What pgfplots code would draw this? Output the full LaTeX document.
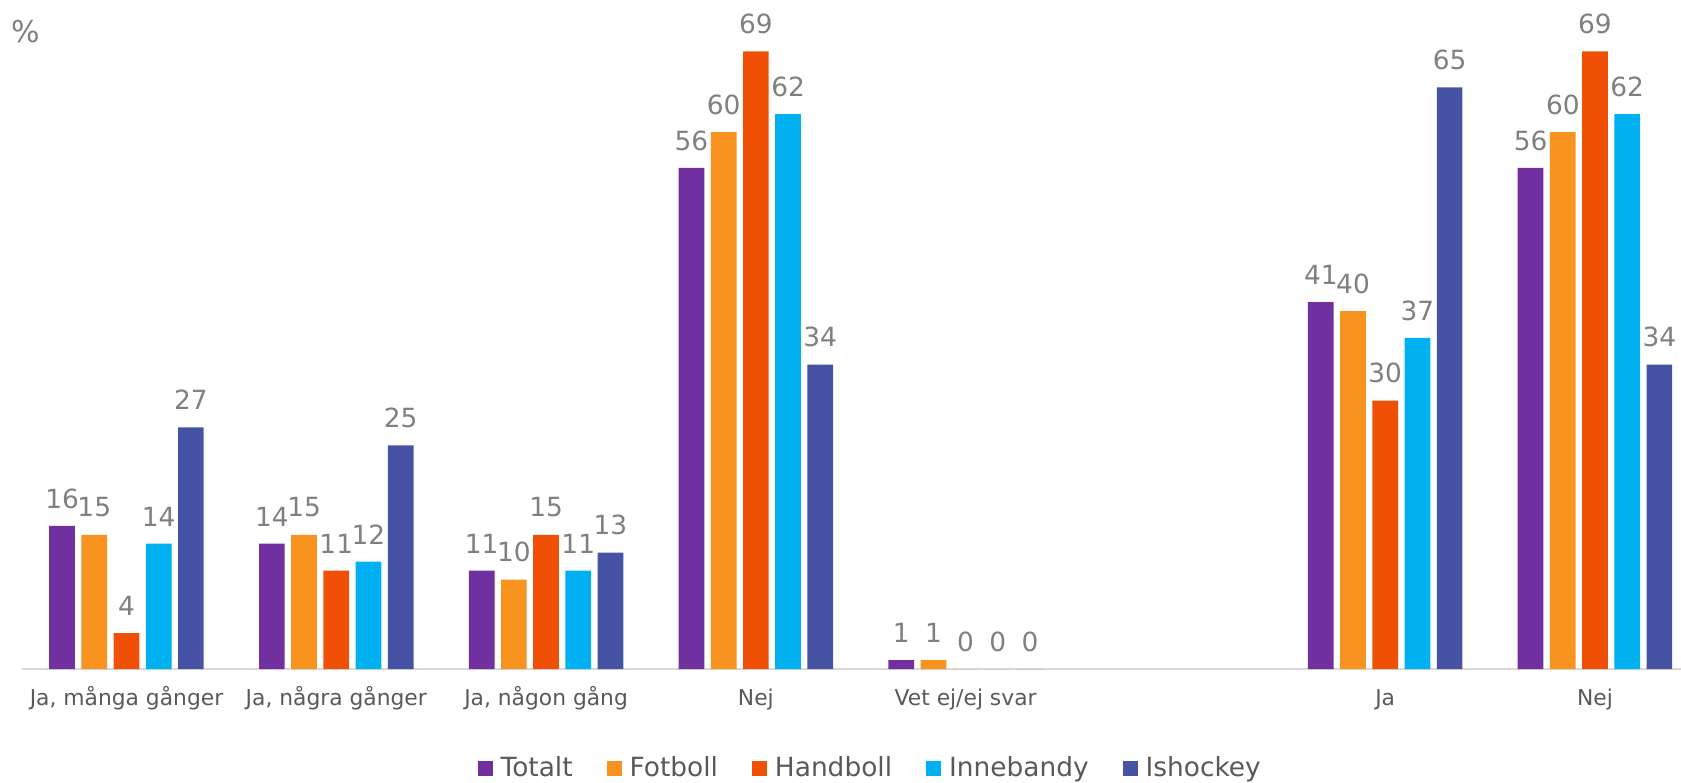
\documentclass[border=0pt]{standalone}
\usepackage{fontspec}
\setmainfont{DejaVu Sans}
\usepackage{pgfplots}
\pgfplotsset{compat=1.18}
\definecolor{cTot}{HTML}{7030A0}
\definecolor{cFot}{HTML}{F7931E}
\definecolor{cHan}{HTML}{F05006}
\definecolor{cInn}{HTML}{00B0F0}
\definecolor{cIsh}{HTML}{4652A4}
\definecolor{lblgray}{HTML}{808080}
\definecolor{tickgray}{HTML}{595959}
\definecolor{linegray}{HTML}{D9D9D9}
\begin{document}
\begin{tikzpicture}
\begin{axis}[
  at={(10.8pt,56.5pt)}, anchor=south west,
  scale only axis,
  width=829.7pt, height=334.5pt,
  ybar=3.25pt, bar width=12.85pt,
  xmin=-0.5, xmax=7.41, ymin=0, ymax=74.75,
  clip=false,
  axis x line*=bottom, axis y line=none,
  x axis line style={draw=linegray, line width=0.8pt, -},
  xtick={0,1,2,3,4,6,7},
  xticklabels={{Ja, många gånger},{Ja, några gånger},{Ja, någon gång},Nej,{Vet ej/ej svar},Ja,Nej},
  major tick length=0pt,
  xticklabel style={font=\fontsize{10.9}{12}\selectfont, text=tickgray, anchor=base, yshift=-18pt},
  ytick=\empty,
  /pgf/number format/assume math mode=true,
  nodes near coords,
  every node near coord/.append style={font=\fontsize{13.2}{15}\selectfont, text=lblgray, inner sep=0pt, yshift=8.5pt},
  legend columns=-1,
  legend style={at={(0.512,-0.148)}, anchor=center, draw=none, fill=none,
    font=\fontsize{13.2}{15}\selectfont, text=tickgray,
    /tikz/every odd column/.append style={column sep=2pt},
    /tikz/every even column/.append style={column sep=15pt}},
  legend image code/.code={\fill[#1,draw=none] (0pt,-3.75pt) rectangle (7.5pt,3.75pt);},
]
\addplot[fill=cTot, draw=none] coordinates {(0,16) (1,14) (2,11) (3,56) (4,1) (6,41) (7,56)};
\addplot[fill=cFot, draw=none] coordinates {(0,15) (1,15) (2,10) (3,60) (4,1) (6,40) (7,60)};
\addplot[fill=cHan, draw=none] coordinates {(0,4) (1,11) (2,15) (3,69) (4,0) (6,30) (7,69)};
\addplot[fill=cInn, draw=none] coordinates {(0,14) (1,12) (2,11) (3,62) (4,0) (6,37) (7,62)};
\addplot[fill=cIsh, draw=none] coordinates {(0,27) (1,25) (2,13) (3,34) (4,0) (6,65) (7,34)};
\legend{Totalt,Fotboll,Handboll,Innebandy,Ishockey}
\end{axis}
\node[font=\fontsize{15}{17}\selectfont, text=lblgray] at (13pt,375pt) {\%};
\pgfresetboundingbox
\path[use as bounding box] (0,0) rectangle (840.5pt,391pt);
\end{tikzpicture}
\end{document}
